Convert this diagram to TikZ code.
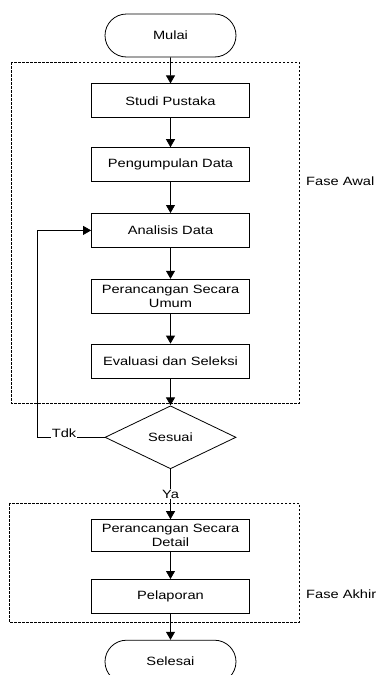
\documentclass[tikz,border=0pt]{standalone}
\usepackage{fontspec}
\setmainfont{Liberation Sans}[FakeStretch=1.22]
\usepackage{tikz}
\usetikzlibrary{shapes.geometric,shapes.misc,arrows.meta,positioning,calc}

\begin{document}
\begin{tikzpicture}[
  x=1pt, y=-1pt,
  font=\fontsize{12}{14.5}\selectfont,
  node distance=30pt,
  every path/.style={line width=0.8pt},
  term/.style={draw,rounded rectangle,minimum width=131pt,minimum height=43pt,inner sep=0pt},
  proc/.style={draw,rectangle,minimum width=158pt,minimum height=34pt,text width=154pt,align=center,inner sep=2pt},
  decision/.style={draw,diamond,minimum width=131pt,minimum height=63pt,inner sep=0pt,aspect=2.08},
  phase/.style={draw,dash pattern=on 2.5pt off 1.5pt,line width=0.7pt},
  arrow/.style={-{Triangle[length=8pt,width=9pt]}},
]
\useasboundingbox (0,0) rectangle (376,675);
% fase
\draw[phase] (11,62) rectangle (299,403);
\draw[phase] (9,503) rectangle (299,622);
\node[anchor=west] (awal) at (302.5,181) {Fase Awal};
\node[anchor=west] (akhir) at (302.5,594) {Fase Akhir};
% langkah
\node[term] (mulai) at (170.5,35.5) {Mulai};
\node[proc] (studi) [below=26pt of mulai] {Studi Pustaka};
\node[proc] (kumpul) [below=29pt of studi] {Pengumpulan Data};
\node[proc] (analisis) [below=31pt of kumpul] {Analisis Data};
\node[proc] (umum) [below=31pt of analisis] {Perancangan Secara\\Umum};
\node[proc] (evaluasi) [below=30pt of umum] {Evaluasi dan Seleksi};
\node[decision] (sesuai) [below=27pt of evaluasi] {Sesuai};
\node[proc,minimum height=32pt] (detail) [below=50pt of sesuai] {Perancangan Secara\\Detail};
\node[proc] (lapor) [below=27pt of detail] {Pelaporan};
\node[term] (selesai) [below=26pt of lapor] {Selesai};
\coordinate (balik) at (37,0);
\draw[arrow] (mulai) -- (studi);
\draw[arrow] (studi) -- (kumpul);
\draw[arrow] (kumpul) -- (analisis);
\draw[arrow] (analisis) -- (umum);
\draw[arrow] (umum) -- (evaluasi);
\draw[arrow] (evaluasi) -- (sesuai);
\draw[arrow] (sesuai) -- node[fill=white,inner sep=1pt]{Ya} (detail);
\draw[arrow] (detail) -- (lapor);
\draw[arrow] (lapor) -- (selesai);
\draw[arrow] (sesuai.west) -- node[fill=white,inner sep=1pt,anchor=base,pos=0.6]{Tdk} (sesuai.west -| balik) |- (analisis.west);
\end{tikzpicture}
\end{document}
